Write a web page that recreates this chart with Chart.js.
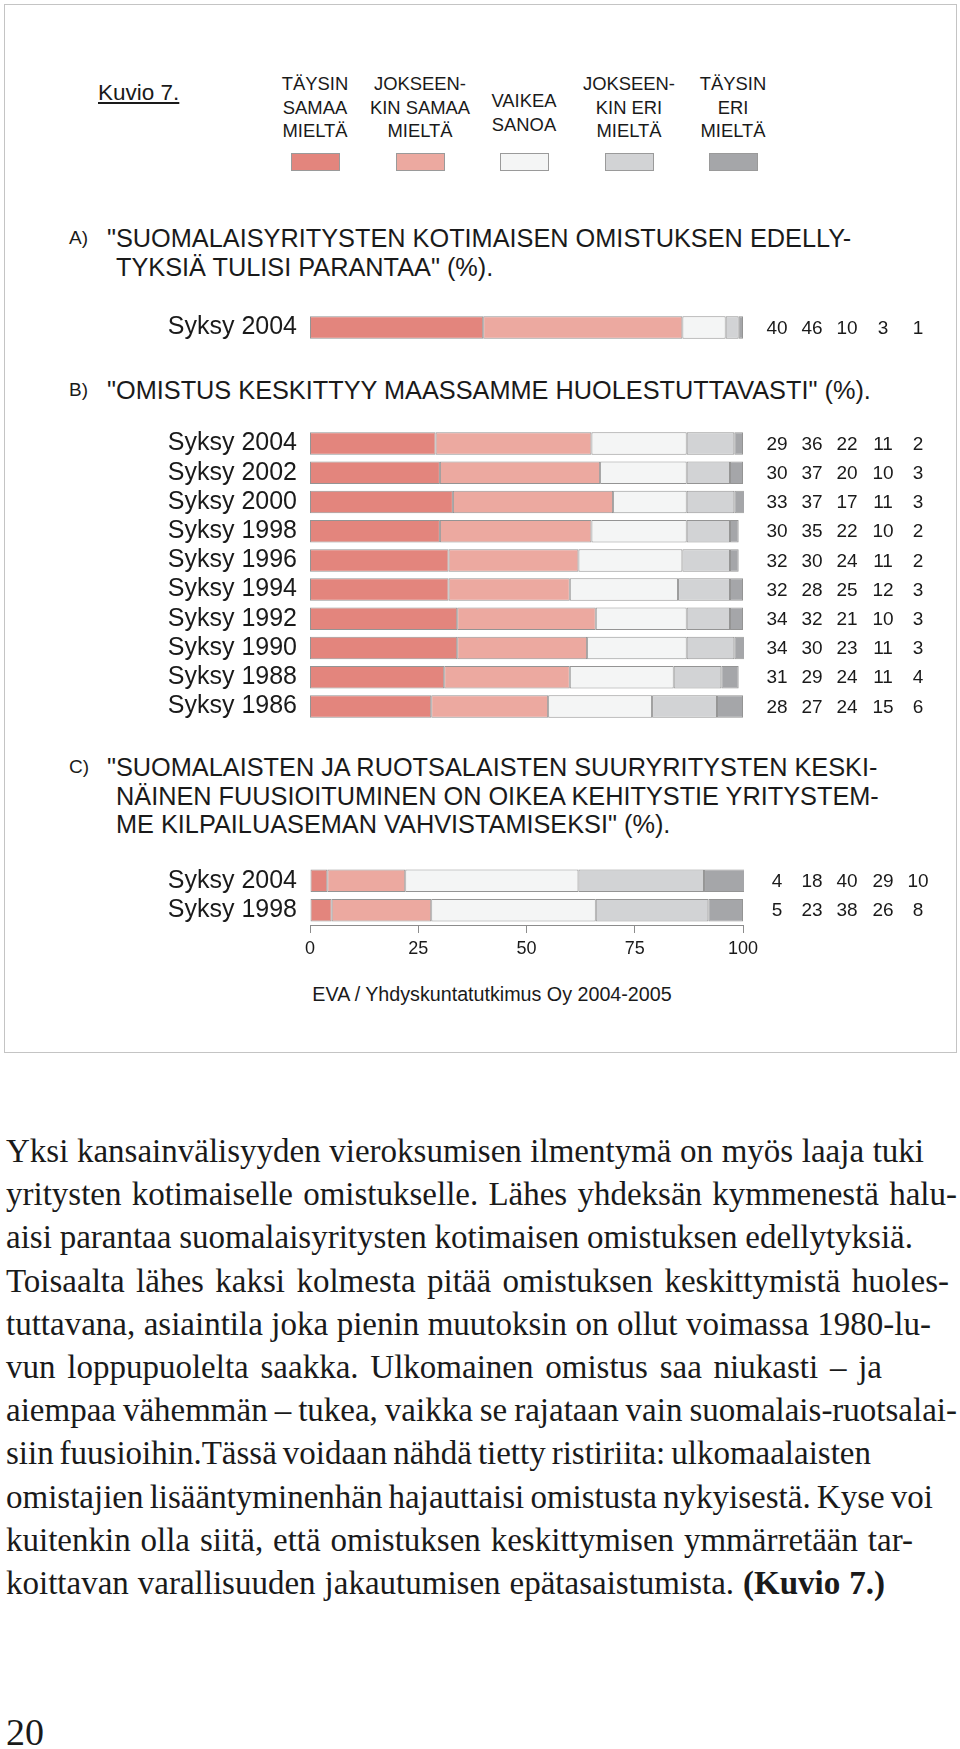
<!DOCTYPE html>
<html>
<head>
<meta charset="utf-8">
<script src="https://cdn.jsdelivr.net/npm/chart.js@4.4.1/dist/chart.umd.min.js"></script>
<style>
  body { margin: 0; background: #fff; }
  #page { position: relative; width: 960px; height: 1749px; overflow: hidden;
          font-family: "Liberation Sans", Arial, sans-serif; color: #1a1a1a; }
  .abs { position: absolute; }
  #box { left: 4px; top: 4px; width: 951px; height: 1047px; border: 1px solid #c4c4c4; }
  #kuvio { left: 98px; top: 80px; font-size: 22.5px; text-decoration: underline; line-height: 26px; }
  .leg { width: 130px; text-align: center; font-size: 18.4px; line-height: 23.5px; }
  .sw { width: 47px; height: 16px; border: 1px solid #9a9a9a; box-sizing: content-box; }
  .letter { left: 69px; font-size: 19px; line-height: 28.5px; }
  .title { left: 107px; font-size: 25.3px; line-height: 28.5px; white-space: nowrap; }
  .title .ind { display: inline-block; margin-left: 9px; }
  .wrap { position: absolute; left: 150px; width: 810px; }
  #source { left: 292px; width: 400px; top: 982px; text-align: center; font-size: 19.7px; line-height: 24px; }
  #text { left: 6px; top: 1130px; font-family: "Liberation Serif", "Times New Roman", serif;
          font-size: 33px; line-height: 43.2px; color: #1a1a1a; }
  #text div { white-space: nowrap; }
  #pagenum { left: 6px; top: 1710px; font-family: "Liberation Serif", serif; font-size: 38px; line-height: 44px; }
</style>
</head>
<body>
<div id="page">
  <div id="box" class="abs"></div>
  <div id="kuvio" class="abs">Kuvio 7.</div>
  <div id="legend"></div>

  <div class="abs letter" style="top:224px">A)</div>
  <div class="abs title" style="top:224px">"SUOMALAISYRITYSTEN KOTIMAISEN OMISTUKSEN EDELLY-<br><span class="ind">TYKSIÄ TULISI PARANTAA" (%).</span></div>
  <div class="wrap" style="top:313px;height:29px"><canvas id="chartA"></canvas></div>

  <div class="abs letter" style="top:376px">B)</div>
  <div class="abs title" style="top:376px">"OMISTUS KESKITTYY MAASSAMME HUOLESTUTTAVASTI" (%).</div>
  <div class="wrap" style="top:429px;height:292px"><canvas id="chartB"></canvas></div>

  <div class="abs letter" style="top:753px">C)</div>
  <div class="abs title" style="top:753px">"SUOMALAISTEN JA RUOTSALAISTEN SUURYRITYSTEN KESKI-<br><span class="ind">NÄINEN FUUSIOITUMINEN ON OIKEA KEHITYSTIE YRITYSTEM-</span><br><span class="ind">ME KILPAILUASEMAN VAHVISTAMISEKSI" (%).</span></div>
  <div class="wrap" style="top:866px;height:99px"><canvas id="chartC"></canvas></div>

  <div id="source" class="abs">EVA / Yhdyskuntatutkimus Oy 2004-2005</div>

  <div id="text" class="abs">
    <div data-w="918">Yksi kansainvälisyyden vieroksumisen ilmentymä on myös laaja tuki</div>
    <div data-w="951">yritysten kotimaiselle omistukselle. Lähes yhdeksän kymmenestä halu-</div>
    <div data-w="907">aisi parantaa suomalaisyritysten kotimaisen omistuksen edellytyksiä.</div>
    <div data-w="943">Toisaalta lähes kaksi kolmesta pitää omistuksen keskittymistä huoles-</div>
    <div data-w="925">tuttavana, asiaintila joka pienin muutoksin on ollut voimassa 1980-lu-</div>
    <div data-w="876">vun loppupuolelta saakka. Ulkomainen omistus saa niukasti – ja</div>
    <div data-w="951">aiempaa vähemmän – tukea, vaikka se rajataan vain suomalais-ruotsalai-</div>
    <div data-w="865">siin fuusioihin.Tässä voidaan nähdä tietty ristiriita: ulkomaalaisten</div>
    <div data-w="927">omistajien lisääntyminenhän hajauttaisi omistusta nykyisestä. Kyse voi</div>
    <div data-w="907">kuitenkin olla siitä, että omistuksen keskittymisen ymmärretään tar-</div>
    <div data-w="879">koittavan varallisuuden jakautumisen epätasaistumista. <b>(Kuvio 7.)</b></div>
  </div>
  <div id="pagenum" class="abs">20</div>
</div>

<script>
// sarjat
const seriesLabels = [
  ['TÄYSIN', 'SAMAA', 'MIELTÄ'],
  ['JOKSEEN-', 'KIN SAMAA', 'MIELTÄ'],
  ['VAIKEA', 'SANOA'],
  ['JOKSEEN-', 'KIN ERI', 'MIELTÄ'],
  ['TÄYSIN', 'ERI', 'MIELTÄ']
];
const seriesColors = ['#e3857d', '#eca9a0', '#f4f5f5', '#d2d3d5', '#a5a6a9'];

// A) kotimainen omistus
const catsA = ['Syksy 2004'];
const taysinSamaaA = [40];
const jokseenkinSamaaA = [46];
const vaikeaA = [10];
const jokseenkinEriA = [3];
const taysinEriA = [1];

// B) omistus keskittyy
const catsB = ['Syksy 2004', 'Syksy 2002', 'Syksy 2000', 'Syksy 1998', 'Syksy 1996',
               'Syksy 1994', 'Syksy 1992', 'Syksy 1990', 'Syksy 1988', 'Syksy 1986'];
const taysinSamaaB = [29, 30, 33, 30, 32, 32, 34, 34, 31, 28];
const jokseenkinSamaaB = [36, 37, 37, 35, 30, 28, 32, 30, 29, 27];
const vaikeaB = [22, 20, 17, 22, 24, 25, 21, 23, 24, 24];
const jokseenkinEriB = [11, 10, 11, 10, 11, 12, 10, 11, 11, 15];
const taysinEriB = [2, 3, 3, 2, 2, 3, 3, 3, 4, 6];

// C) fuusioituminen
const catsC = ['Syksy 2004', 'Syksy 1998'];
const taysinSamaaC = [4, 5];
const jokseenkinSamaaC = [18, 23];
const vaikeaC = [40, 38];
const jokseenkinEriC = [29, 26];
const taysinEriC = [10, 8];

const xTicks = [0, 25, 50, 75, 100];

// legend
const legCenters = [315, 420, 524, 629, 733];
const legend = document.getElementById('legend');
seriesLabels.forEach((lines, i) => {
  const d = document.createElement('div');
  d.className = 'abs leg';
  d.style.left = (legCenters[i] - 65) + 'px';
  d.style.top = (lines.length == 3 ? 72 : 89) + 'px';
  d.innerHTML = lines.join('<br>');
  legend.appendChild(d);
  const s = document.createElement('div');
  s.className = 'abs sw';
  s.style.left = (legCenters[i] - 24) + 'px';
  s.style.top = '153px';
  s.style.background = seriesColors[i];
  legend.appendChild(s);
});

Chart.defaults.font.family = '"Liberation Sans", Arial, sans-serif';
Chart.defaults.color = '#1a1a1a';

const colOffsets = [34, 69, 104, 140, 175];
const valueColumns = {
  id: 'valueColumns',
  afterDatasetsDraw(chart) {
    const ctx = chart.ctx;
    const yScale = chart.scales.y;
    ctx.save();
    ctx.font = '19px "Liberation Sans", Arial, sans-serif';
    ctx.fillStyle = '#1a1a1a';
    ctx.textAlign = 'center';
    ctx.textBaseline = 'middle';
    chart.data.datasets.forEach((ds, j) => {
      ds.data.forEach((v, i) => {
        ctx.fillText(v, chart.chartArea.right + colOffsets[j], yScale.getPixelForValue(i) + 1);
      });
    });
    ctx.restore();
  }
};

function makeChart(id, cats, series, showAxis) {
  const ctx = document.getElementById(id).getContext('2d');
  return new Chart(ctx, {
    type: 'bar',
    data: {
      labels: cats,
      datasets: series.map((d, i) => ({
        data: d,
        backgroundColor: seriesColors[i],
        borderColor: 'rgba(60,60,60,0.55)',
        borderWidth: 1,
        borderSkipped: false,
        barPercentage: 0.77,
        categoryPercentage: 1,
        clip: 1
      }))
    },
    options: {
      indexAxis: 'y',
      responsive: true,
      maintainAspectRatio: false,
      animation: false,
      layout: { padding: { right: 217 } },
      plugins: { legend: { display: false }, tooltip: { enabled: false } },
      scales: {
        x: {
          stacked: true,
          min: 0,
          max: 100,
          display: showAxis,
          afterBuildTicks: s => { s.ticks = xTicks.map(v => ({ value: v })); },
          afterFit: s => {
            if (showAxis) s.height = 40;
            s.paddingLeft = 0; s.paddingRight = 0;
          },
          grid: { drawOnChartArea: false, drawTicks: true, tickLength: 8, color: '#8c8c8c' },
          border: { display: true, color: '#8c8c8c' },
          ticks: { padding: 5, font: { size: 18 }, color: '#1a1a1a' }
        },
        y: {
          stacked: true,
          afterFit: s => { s.width = 160; s.paddingTop = 0; s.paddingBottom = 0; },
          grid: { display: false, drawTicks: false },
          border: { display: false },
          ticks: { padding: 13, autoSkip: false, font: { size: 25 }, color: '#1a1a1a' }
        }
      }
    },
    plugins: [valueColumns]
  });
}

makeChart('chartA', catsA, [taysinSamaaA, jokseenkinSamaaA, vaikeaA, jokseenkinEriA, taysinEriA], false);
makeChart('chartB', catsB, [taysinSamaaB, jokseenkinSamaaB, vaikeaB, jokseenkinEriB, taysinEriB], false);
makeChart('chartC', catsC, [taysinSamaaC, jokseenkinSamaaC, vaikeaC, jokseenkinEriC, taysinEriC], true);

// rivien leveys kuten alkuperäisessä
function fitLines() {
  document.querySelectorAll('#text div').forEach(line => {
    const target = +line.dataset.w;
    let span = line.querySelector('span.fit');
    if (!span) {
      span = document.createElement('span');
      span.className = 'fit';
      span.innerHTML = line.innerHTML;
      line.innerHTML = '';
      line.appendChild(span);
    }
    line.style.wordSpacing = '0px';
    const w = span.getBoundingClientRect().width;
    const gaps = (span.textContent.match(/ /g) || []).length;
    if (gaps > 0) {
      let ws = (target - w) / gaps;
      ws = Math.max(-4, Math.min(8, ws));
      line.style.wordSpacing = ws + 'px';
    }
  });
}
fitLines();
if (document.fonts && document.fonts.ready) document.fonts.ready.then(fitLines);
</script>
</body>
</html>
